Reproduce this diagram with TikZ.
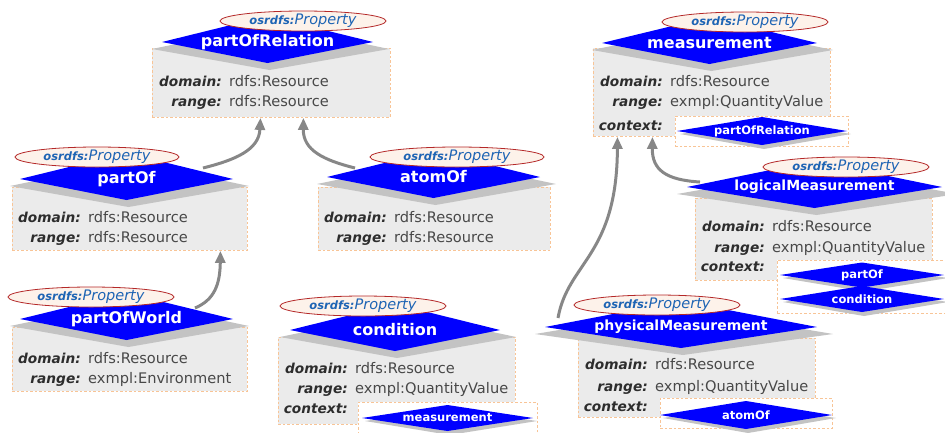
\documentclass[tikz,border=0pt]{standalone}
\usepackage{fontspec}
\setmainfont{DejaVu Sans}
\usetikzlibrary{arrows.meta,shapes.geometric}
\definecolor{hblue}{RGB}{0,0,255}
\definecolor{boxfill}{RGB}{235,235,235}
\definecolor{dashor}{RGB}{248,196,150}
\definecolor{ellfill}{RGB}{253,242,234}
\definecolor{elldraw}{RGB}{180,40,40}
\definecolor{osblue}{RGB}{30,100,180}
\definecolor{lblc}{RGB}{45,45,45}
\definecolor{valc}{RGB}{72,72,72}
\definecolor{connc}{RGB}{135,135,135}
\definecolor{shadc}{RGB}{195,195,195}
\pgfdeclarelayer{bg}
\pgfsetlayers{bg,main}
\tikzset{
  propbox/.style={draw=dashor, fill=boxfill, dash pattern=on 2.5pt off 2pt, line width=0.9pt, inner sep=0, anchor=north west},
  ctxbox/.style={draw=dashor, fill=white, dash pattern=on 2.5pt off 2pt, line width=0.9pt, inner sep=0, anchor=north west},
  htext/.style={text=white, inner sep=0},
  stext/.style={text=white, font=\fontsize{11.5}{12}\selectfont\bfseries, inner sep=0},
  ptype/.style={ellipse, draw=elldraw, fill=ellfill, line width=0.8pt, inner sep=0, minimum height=20pt, text=osblue},
  lbl/.style={text=lblc, font=\fontsize{13.7}{14}\selectfont\bfseries\itshape, inner sep=0, anchor=base east},
  val/.style={text=valc, font=\fontsize{14.6}{15}\selectfont, inner sep=0, anchor=base west},
  conn/.style={draw=connc, line width=3pt, -{Triangle[length=12pt,width=10pt]}},
  hshadow/.style={fill=shadc},
  bluefill/.style={fill=hblue},
}
\newcommand\osr{{\fontsize{11.5}{12}\selectfont\bfseries\itshape osrdfs:}{\fontsize{14.5}{15}\selectfont\itshape Property}}
% header: name, cx, cy, half width, font size, text
\newcommand\hdr[6]{%
  \fill[hshadow] ({#2-#4-10},{#3+7}) -- ({#2+4},{#3-18}) -- ({#2+#4+16},{#3+7}) -- ({#2+2},{#3+28}) -- cycle;
  \fill[bluefill] ({#2-#4},#3) -- (#2,{#3-26}) -- ({#2+#4},#3) -- (#2,{#3+21}) -- cycle;
  \node[htext, font=\fontsize{#5}{#5}\selectfont\bfseries] (#1) at (#2,#3) {#6};
}
% small diamond: name, cx, cy, half width, half height, text
\newcommand\sdia[6]{%
  \fill[hshadow] ({#2-#4+3},{#3+3}) -- ({#2+2},{#3-#5+3}) -- ({#2+#4+4},{#3+3}) -- ({#2+2},{#3+#5+4}) -- cycle;
  \fill[bluefill] ({#2-#4},#3) -- (#2,{#3-#5}) -- ({#2+#4},#3) -- (#2,{#3+#5}) -- cycle;
  \node[stext] (#1) at (#2,#3) {#6};
}
% row: name, label right x, baseline, label, value
\newcommand\prow[5]{%
  \node[lbl] (#1l) at (#2,#3) {#4};
  \node[val] (#1v) at ({#2+7},#3) {#5};
}
\begin{document}
\begin{tikzpicture}[x=1pt,y=-1pt]
\useasboundingbox (0,0) rectangle (945,432);
\clip (0,0) rectangle (945,432);

% A partOfRelation
\node[propbox, minimum width=238pt, minimum height=69pt] (A) at (152,48) {};
\hdr{Ah}{267.5}{42}{105.5}{16}{partOfRelation}
\node[ptype, minimum width=166pt] (Ae) at (303,21) {\osr};
\prow{A1}{222}{86}{domain:}{rdfs:Resource}
\prow{A2}{222}{106}{range:}{rdfs:Resource}

% B measurement
\node[propbox, minimum width=237pt, minimum height=88pt] (B) at (593,48) {};
\hdr{Bh}{709.5}{43}{107.5}{16}{measurement}
\node[ptype, minimum width=166pt] (Be) at (745,22) {\osr};
\prow{B1}{663}{86}{domain:}{rdfs:Resource}
\prow{B2}{663}{106}{range:}{exmpl:QuantityValue}
\node[lbl] (B3l) at (663,130) {context:};
\node[ctxbox, minimum width=173pt, minimum height=30pt] (Bx) at (675,116) {};
\sdia{Bc}{762}{131}{85}{14}{partOfRelation}

% C logicalMeasurement
\node[propbox, minimum width=237pt, minimum height=82pt] (C) at (695,198) {};
\hdr{Ch}{814.5}{187}{127.5}{14}{logicalMeasurement}
\node[ptype, minimum width=166pt] (Ce) at (846,167) {\osr};
\prow{C1}{765}{231}{domain:}{rdfs:Resource}
\prow{C2}{765}{252}{range:}{exmpl:QuantityValue}
\node[lbl] (C3l) at (765,271) {context:};
\node[ctxbox, minimum width=180pt, minimum height=53pt] (Cx) at (777,260) {};
\sdia{Cc1}{862}{275}{82}{12.5}{partOf}
\sdia{Cc2}{862}{299}{82}{13}{condition}

% D partOf
\node[propbox, minimum width=235pt, minimum height=63pt] (D) at (12,187) {};
\hdr{Dh}{126.5}{179}{106.5}{16}{partOf}
\node[ptype, minimum width=164pt] (De) at (97,157) {\osr};
\prow{D1}{81}{222}{domain:}{rdfs:Resource}
\prow{D2}{81}{242}{range:}{rdfs:Resource}

% E atomOf
\node[propbox, minimum width=232pt, minimum height=63pt] (E) at (318,187) {};
\hdr{Eh}{433.5}{177}{106.5}{16}{atomOf}
\node[ptype, minimum width=174pt] (Ee) at (457,157) {\osr};
\prow{E1}{387}{222}{domain:}{rdfs:Resource}
\prow{E2}{387}{242}{range:}{rdfs:Resource}

% F partOfWorld
\node[propbox, minimum width=235pt, minimum height=64pt] (F) at (12,327) {};
\hdr{Fh}{126.5}{319}{106.5}{16}{partOfWorld}
\node[ptype, minimum width=166pt] (Fe) at (91,297) {\osr};
\prow{F1}{81}{363}{domain:}{rdfs:Resource}
\prow{F2}{81}{383}{range:}{exmpl:Environment}

% G condition
\node[propbox, minimum width=237pt, minimum height=87pt] (G) at (278,337) {};
\hdr{Gh}{395}{330}{105}{16}{condition}
\node[ptype, minimum width=166pt] (Ge) at (363,306) {\osr};
\prow{G1}{348}{373}{domain:}{rdfs:Resource}
\prow{G2}{348}{393}{range:}{exmpl:QuantityValue}
\node[lbl] (G3l) at (348,413) {context:};
\node[ctxbox, minimum width=179pt, minimum height=40pt] (Gx) at (358,402) {};
\sdia{Gc}{447.5}{418}{85.5}{13}{measurement}

% H physicalMeasurement
\node[propbox, minimum width=237pt, minimum height=79pt] (H) at (578,338) {};
\hdr{Hh}{681}{327}{136}{14}{physicalMeasurement}
\node[ptype, minimum width=166pt] (He) at (657,305) {\osr};
\prow{H1}{648}{369}{domain:}{rdfs:Resource}
\prow{H2}{648}{391}{range:}{exmpl:QuantityValue}
\node[lbl] (H3l) at (648,411) {context:};
\node[ctxbox, minimum width=172pt, minimum height=30pt] (Hx) at (660,398) {};
\sdia{Hc}{746}{415}{86}{14}{atomOf}

% connectors
\begin{pgfonlayer}{bg}
\coordinate (k1) at (203,168);
\coordinate (k2) at (355,168);
\coordinate (k3) at (195,308);
\coordinate (k4) at (558,318);
\coordinate (k5) at (700,182);
\draw[conn] (k1) .. controls (235,160) and (259,150) .. ([xshift=-11pt]A.south);
\draw[conn] (k2) .. controls (323,160) and (303,150) .. ([xshift=32pt]A.south);
\draw[conn] (k3) .. controls (214,300) and (220,285) .. ([xshift=90.5pt]D.south);
\draw[conn] (k4) .. controls (568,262) and (617,256) .. ([xshift=-94.5pt]B.south);
\draw[conn] (k5) .. controls (666,180) and (652,170) .. ([xshift=-59.5pt]B.south);
\end{pgfonlayer}
\end{tikzpicture}
\end{document}
